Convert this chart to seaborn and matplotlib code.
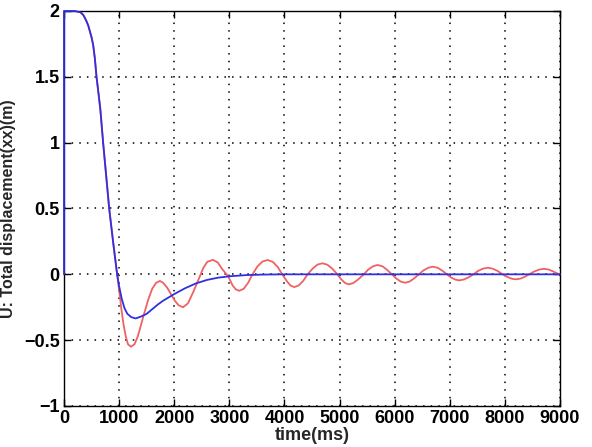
import numpy as np
import pandas as pd
import seaborn as sns
from matplotlib import pyplot as plt

# (time in ms, displacement in m)
red_t = [0, 100, 200, 300, 350, 400, 440, 500, 530, 560, 590, 630, 660, 710, 765, 820,
         890, 964, 1000, 1040, 1080, 1120, 1160, 1215, 1280, 1340, 1400, 1460, 1530,
         1600, 1670, 1740, 1800, 1870, 1940, 2010, 2080, 2160, 2250, 2350, 2450, 2530,
         2600, 2700, 2790, 2870, 2980, 3060, 3120, 3180, 3260, 3340, 3420, 3510, 3600,
         3695, 3790, 3880, 3960, 4040, 4110, 4180, 4260, 4340, 4420, 4510, 4600, 4690,
         4780, 4870, 4960, 5030, 5100, 5170, 5250, 5340, 5440, 5520, 5610, 5690, 5780,
         5860, 5950, 6030, 6110, 6190, 6270, 6350, 6440, 6520, 6610, 6690, 6780, 6860,
         6950, 7020, 7100, 7170, 7250, 7340, 7430, 7510, 7600, 7690, 7780, 7870, 7960,
         8040, 8120, 8200, 8280, 8360, 8440, 8530, 8620, 8710, 8800, 8880, 8970, 9000]
red_u = [2.0, 2.0, 2.0, 1.99, 1.97, 1.93, 1.89, 1.8, 1.74, 1.64, 1.5, 1.36, 1.25, 1.0,
         0.75, 0.5, 0.25, 0.0, -0.12, -0.26, -0.38, -0.47, -0.53, -0.55, -0.53, -0.47,
         -0.38, -0.29, -0.19, -0.11, -0.065, -0.05, -0.065, -0.1, -0.15, -0.2, -0.235,
         -0.25, -0.22, -0.13, -0.03, 0.05, 0.095, 0.11, 0.09, 0.04, -0.015, -0.085,
         -0.115, -0.125, -0.11, -0.065, 0.0, 0.06, 0.097, 0.109, 0.094, 0.055, 0.0,
         -0.05, -0.085, -0.097, -0.084, -0.05, 0.0, 0.043, 0.074, 0.084, 0.073, 0.042,
         0.0, -0.038, -0.066, -0.076, -0.066, -0.038, 0.0, 0.036, 0.062, 0.071, 0.061,
         0.035, 0.0, -0.032, -0.055, -0.064, -0.055, -0.032, 0.0, 0.029, 0.05, 0.058,
         0.05, 0.029, 0.0, -0.023, -0.04, -0.046, -0.04, -0.023, 0.0, 0.025, 0.043, 0.05,
         0.043, 0.025, 0.0, -0.019, -0.033, -0.038, -0.033, -0.019, 0.0, 0.021, 0.036,
         0.042, 0.036, 0.021, 0.003, -0.001]

blue_t = [0, 0, 100, 200, 300, 350, 400, 440, 500, 530, 560, 590, 630, 660, 710, 765,
          820, 890, 964, 1000, 1050, 1100, 1150, 1220, 1300, 1400, 1500, 1600, 1700,
          1800, 1900, 2000, 2200, 2400, 2600, 2800, 3000, 3300, 3600, 4000, 5000, 6000,
          7000, 8000, 9000]
blue_u = [0.0, 2.0, 2.0, 2.0, 1.99, 1.97, 1.93, 1.89, 1.8, 1.74, 1.64, 1.5, 1.36, 1.25,
          1.0, 0.75, 0.5, 0.25, 0.0, -0.09, -0.19, -0.26, -0.3, -0.325, -0.335, -0.32,
          -0.3, -0.265, -0.23, -0.2, -0.175, -0.15, -0.105, -0.068, -0.042, -0.025,
          -0.015, -0.006, -0.002, 0.0, 0.0, 0.0, 0.0, 0.0, 0.0]

x_ticks = [0, 1000, 2000, 3000, 4000, 5000, 6000, 7000, 8000, 9000]
y_ticks = [-1, -0.5, 0, 0.5, 1, 1.5, 2]
y_labels = ['\u22121', '\u22120.5', '0', '0.5', '1', '1.5', '2']

sns.set_style("ticks", {"xtick.direction": "in", "ytick.direction": "in"})
plt.rcParams['font.family'] = ['Liberation Sans', 'DejaVu Sans']

red_df = pd.DataFrame({'t': red_t, 'u': red_u})
blue_df = pd.DataFrame({'t': blue_t, 'u': blue_u})

fig = plt.figure(figsize=(5.92, 4.47), dpi=100)
ax = fig.add_axes([64 / 592, 1 - 406 / 447, 496 / 592, 395 / 447])

sns.lineplot(data=red_df, x='t', y='u', sort=False, estimator=None,
             color='#f06262', lw=1.3, ax=ax)
sns.lineplot(data=blue_df, x='t', y='u', sort=False, estimator=None,
             color='#3030e0', lw=1.3, ax=ax, zorder=3, clip_on=False)

ax.set_xlim(0, 9000)
ax.set_ylim(-1, 2)
ax.set_xticks(x_ticks)
ax.set_yticks(y_ticks)
ax.set_yticklabels(y_labels)
ax.tick_params(top=True, right=True, length=5, width=1, labelsize=13, pad=3,
               colors='black')
for lab in ax.get_xticklabels() + ax.get_yticklabels():
    lab.set_fontweight('bold')
ax.grid(True, color='black', linestyle=(0, (1, 4)), lw=1.1)
for s in ax.spines.values():
    s.set_color('black')
    s.set_linewidth(1)
ax.set_xlabel('time(ms)', fontsize=13, fontweight='bold', labelpad=0)
ax.set_ylabel('U: Total displacement(xx)(m)', fontsize=11.5, fontweight='bold', labelpad=6)

fig.savefig('out.png', dpi=100)
